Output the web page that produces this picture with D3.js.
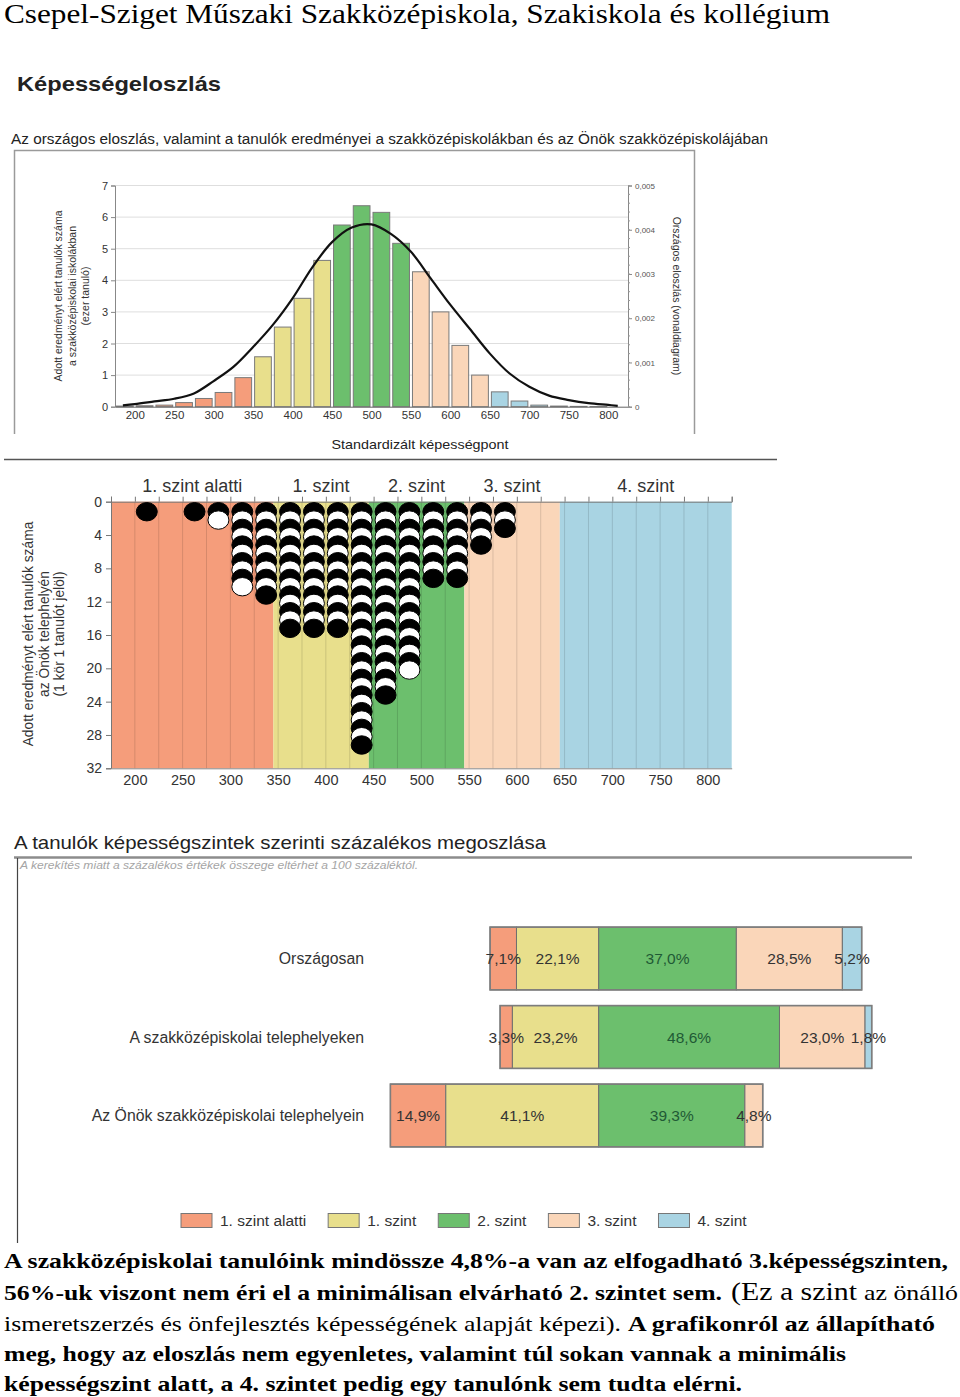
<!DOCTYPE html>
<html><head><meta charset="utf-8">
<script src="https://cdn.jsdelivr.net/npm/d3@7"></script>
<style>body{margin:0;background:#fff} svg{display:block}</style>
</head><body>
<svg id="c" width="960" height="1397"></svg>
<script>
// ---------- DATA ----------
const histBinStart = [175,200,225,250,275,300,325,350,375,400,425,450,475,500,525,550,575,600,625,650,675,700,725,750,775];
const histCount    = [0.02,0.03,0.05,0.13,0.26,0.45,0.92,1.58,2.52,3.43,4.63,5.75,6.36,6.15,5.17,4.27,3.0,1.94,1.0,0.47,0.18,0.05,0.02,0.01,0.005];
const curveScore   = [185,200,225,250,275,300,325,350,375,400,425,450,475,500,525,550,575,600,625,650,675,700,725,750,775,800,812];
const curveDensity = [0.00003,0.00006,0.00012,0.00018,0.0003,0.00058,0.0009,0.00135,0.00185,0.00245,0.00315,0.00372,0.00405,0.00412,0.0039,0.0035,0.0029,0.0023,0.00175,0.0012,0.00075,0.00045,0.00025,0.00015,0.00008,0.00004,0.00002];
const histYTicks = [0,1,2,3,4,5,6,7];
const densityTicks = [0,0.001,0.002,0.003,0.004,0.005];
const scoreTicks = [200,250,300,350,400,450,500,550,600,650,700,750,800];

const levelNames = ["1. szint alatti","1. szint","2. szint","3. szint","4. szint"];
const levelBounds = [175,345,445,545,645,825];
const levelColors = ["#f59d7b","#e8df8c","#6cbf6d","#fad6b9","#a9d4e3"];

const dotColumnCenter = [212.5,262.5,287.5,312.5,337.5,362.5,387.5,412.5,437.5,462.5,487.5,512.5,537.5,562.5,587.5];
const dotColumnCount  = [1,1,2,10,11,15,15,15,29,23,20,9,9,5,3];
const dotYTicks = [0,4,8,12,16,20,24,28,32];

const groups = ["Országosan","A szakközépiskolai telephelyeken","Az Önök szakközépiskolai telephelyein"];
const pctBelow1 = [7.1,3.3,14.9];
const pctLevel1 = [22.1,23.2,41.1];
const pctLevel2 = [37.0,48.6,39.3];
const pctLevel3 = [28.5,23.0,4.8];
const pctLevel4 = [5.2,1.8,0];

// ---------- DRAW ----------
const svg = d3.select("#c");
const SANS = "'Liberation Sans', Arial, sans-serif";
const SERIF = "'Liberation Serif', 'Times New Roman', serif";

function txt(x,y,s,o={}){
  const t = svg.append("text").attr("x",x).attr("y",y).text(s)
    .attr("font-family",o.ff||SANS).attr("font-size",o.fs||12)
    .attr("fill",o.fill||"#222");
  if(o.fw) t.attr("font-weight",o.fw);
  if(o.fst) t.attr("font-style",o.fst);
  if(o.anchor) t.attr("text-anchor",o.anchor);
  if(o.len) t.attr("textLength",o.len).attr("lengthAdjust","spacingAndGlyphs");
  if(o.rot!==undefined) t.attr("transform",`rotate(${o.rot},${x},${y})`);
  return t;
}

// page title
txt(4,23,"Csepel-Sziget Műszaki Szakközépiskola, Szakiskola és kollégium",{ff:SERIF,fs:27,fill:"#000",len:826});

// ===== Histogram =====
txt(17,91,"Képességeloszlás",{fs:21,fw:"bold",len:204,fill:"#222"});
txt(11,144,"Az országos eloszlás, valamint a tanulók eredményei a szakközépiskolákban és az Önök szakközépiskolájában",{fs:14,len:757,fill:"#222"});
svg.append("path").attr("d","M14.5,434 V150.5 H694.5 V434").attr("fill","none").attr("stroke","#9a9a9a").attr("stroke-width",1.5);

const xH = d3.scaleLinear().domain([175,825]).range([115,628]);
const yH = d3.scaleLinear().domain([0,7]).range([406.7,185.5]);
const yDens = d3.scaleLinear().domain([0,0.005]).range([406.7,185.5]);
const binW = xH(200)-xH(175);

svg.append("g").selectAll("line").data(histYTicks.slice(1)).join("line")
  .attr("x1",xH(175)).attr("x2",xH(825)).attr("y1",d=>yH(d)).attr("y2",d=>yH(d))
  .attr("stroke","#dedede").attr("stroke-width",1);

function levelColor(s){
  const i = d3.bisectRight([350,450,550,650], s);
  return levelColors[i];
}
svg.append("g").selectAll("rect").data(histBinStart).join("rect")
  .attr("x",d=>xH(d)+1.5).attr("width",binW-3)
  .attr("y",(d,i)=>yH(histCount[i])).attr("height",(d,i)=>yH(0)-yH(histCount[i]))
  .attr("fill",d=>levelColor(d)).attr("stroke","#7a7a7a").attr("stroke-width",1);

const gl = svg.append("g").attr("transform",`translate(${xH(175)},0)`)
  .call(d3.axisLeft(yH).tickValues(histYTicks).tickFormat(d3.format("d")).tickSize(4).tickPadding(3));
gl.select(".domain").attr("stroke","#888");
gl.selectAll(".tick line").attr("stroke","#888");
gl.selectAll("text").attr("font-family",SANS).attr("font-size",11).attr("fill","#333");

const gb = svg.append("g").attr("transform",`translate(0,${yH(0)})`)
  .call(d3.axisBottom(xH).tickValues(scoreTicks).tickSize(0).tickPadding(4));
gb.select(".domain").attr("stroke","#666");
gb.selectAll("text").attr("font-family",SANS).attr("font-size",11.5).attr("fill","#333");

const gr = svg.append("g").attr("transform",`translate(${xH(825)},0)`)
  .call(d3.axisRight(yDens).tickValues(densityTicks).tickSize(4).tickPadding(3)
    .tickFormat(d=>String(d).replace(".",",")));
gr.select(".domain").attr("stroke","#888");
gr.selectAll(".tick line").attr("stroke","#888");
gr.selectAll("text").attr("font-family",SANS).attr("font-size",8).attr("fill","#555");
const minorTicks = d3.range(0,0.00501,0.0002);
svg.append("g").selectAll("line").data(minorTicks).join("line")
  .attr("x1",xH(825)).attr("x2",xH(825)+2).attr("y1",d=>yDens(d)).attr("y2",d=>yDens(d))
  .attr("stroke","#999");

svg.append("path").datum(curveScore)
  .attr("d",d3.line().x(d=>xH(d)).y((d,i)=>yDens(curveDensity[i])).curve(d3.curveCatmullRom))
  .attr("fill","none").attr("stroke","#111").attr("stroke-width",2.2);

["Adott eredményt elért tanulók száma","a szakközépiskolai iskolákban","(ezer tanuló)"].forEach((s,i)=>{
  txt(62+i*13.5,296,s,{fs:10.5,anchor:"middle",rot:-90,fill:"#333"});
});
txt(673,296,"Országos eloszlás (vonaldiagram)",{fs:10.5,anchor:"middle",rot:90,fill:"#333"});
txt(420,449,"Standardizált képességpont",{fs:13,anchor:"middle",fill:"#222",len:177});

svg.append("line").attr("x1",4).attr("x2",777).attr("y1",459.5).attr("y2",459.5).attr("stroke","#555").attr("stroke-width",1.5);

// ===== Dot plot =====
const xD = d3.scaleLinear().domain([175,825]).range([111,731.7]);
const yD = d3.scaleLinear().domain([0,32]).range([501.7,768.3]);

svg.append("g").selectAll("rect").data(levelNames).join("rect")
  .attr("x",(d,i)=>xD(levelBounds[i])).attr("width",(d,i)=>xD(levelBounds[i+1])-xD(levelBounds[i]))
  .attr("y",yD(0)).attr("height",yD(32)-yD(0)).attr("fill",(d,i)=>levelColors[i]);

const grid25 = d3.range(200,825,25);
svg.append("g").selectAll("line").data(grid25).join("line")
  .attr("x1",d=>xD(d)).attr("x2",d=>xD(d)).attr("y1",yD(0)).attr("y2",yD(32))
  .attr("stroke","rgba(0,0,0,0.13)").attr("stroke-width",1);

const gt = svg.append("g").attr("transform",`translate(0,${yD(0)})`)
  .call(d3.axisTop(xD).tickValues(d3.range(175,826,25)).tickSize(5).tickFormat(""));
gt.select(".domain").attr("stroke","#777");
gt.selectAll(".tick line").attr("stroke","#777");

svg.append("g").selectAll("text").data(levelNames).join("text")
  .attr("x",(d,i)=>(xD(levelBounds[i])+xD(levelBounds[i+1]))/2).attr("y",492)
  .attr("text-anchor","middle").attr("font-family",SANS).attr("font-size",18).attr("fill","#333").text(d=>d);

const gdl = svg.append("g").attr("transform",`translate(${xD(175)},0)`)
  .call(d3.axisLeft(yD).tickValues(dotYTicks).tickSize(5).tickPadding(4));
gdl.select(".domain").attr("stroke","#777");
gdl.selectAll(".tick line").attr("stroke","#777");
gdl.selectAll("text").attr("font-family",SANS).attr("font-size",14).attr("fill","#333");

const gdb = svg.append("g").attr("transform",`translate(0,${yD(32)})`)
  .call(d3.axisBottom(xD).tickValues(scoreTicks).tickSize(0).tickPadding(6));
gdb.select(".domain").attr("stroke","#888");
gdb.selectAll("text").attr("font-family",SANS).attr("font-size",14.5).attr("fill","#333");

["Adott eredményt elért tanulók száma","az Önök telephelyén","(1 kör 1 tanulót jelöl)"].forEach((s,i)=>{
  txt(33+i*15.5,634,s,{fs:13.8,anchor:"middle",rot:-90,fill:"#333"});
});

const dots = [];
dotColumnCenter.forEach((c,ci)=>{
  for(let k=1;k<=dotColumnCount[ci];k++) dots.push({c,k});
});
svg.append("g").selectAll("ellipse").data(dots).join("ellipse")
  .attr("cx",d=>xD(d.c)).attr("cy",d=>yD(d.k)+1.7).attr("rx",10.5).attr("ry",9.2)
  .attr("fill",d=>d.k%2===1?"#000":"#fff").attr("stroke","#000").attr("stroke-width",1);

// ===== Stacked bars =====
txt(14,849,"A tanulók képességszintek szerinti százalékos megoszlása",{fs:19,len:532,fill:"#222"});
svg.append("line").attr("x1",14).attr("x2",912).attr("y1",857.5).attr("y2",857.5).attr("stroke","#8c8c8c").attr("stroke-width",2.5);
svg.append("line").attr("x1",17.5).attr("x2",17.5).attr("y1",858).attr("y2",1243).attr("stroke","#444").attr("stroke-width",1.2);
txt(20,869,"A kerekítés miatt a százalékos értékek összege eltérhet a 100 százaléktól.",{fs:11,fst:"italic",fill:"#a5a5a5",len:398});

const xB = d3.scaleLinear().domain([-60,80]).range([598.7-60*3.72,598.7+80*3.72]);
const yB = d3.scaleBand().domain(groups).range([919.25,1154.75]).paddingInner(0.2).paddingOuter(0.1);
const segs = [];
groups.forEach((g,i)=>{
  const v = [pctBelow1[i],pctLevel1[i],pctLevel2[i],pctLevel3[i],pctLevel4[i]];
  const starts = [-(v[0]+v[1]), -v[1], 0, v[2], v[2]+v[3]];
  v.forEach((val,li)=>{ if(val>0) segs.push({g,li,val,x0:starts[li],x1:starts[li]+val}); });
});
svg.append("g").selectAll("rect").data(segs).join("rect")
  .attr("x",d=>xB(d.x0)).attr("width",d=>xB(d.x1)-xB(d.x0))
  .attr("y",d=>yB(d.g)).attr("height",yB.bandwidth())
  .attr("fill",d=>levelColors[d.li]).attr("stroke","#6f6f6f").attr("stroke-width",1);
groups.forEach((g,i)=>{
  const lo = -(pctBelow1[i]+pctLevel1[i]), hi = pctLevel2[i]+pctLevel3[i]+pctLevel4[i];
  svg.append("rect").attr("x",xB(lo)).attr("width",xB(hi)-xB(lo)).attr("y",yB(g)).attr("height",yB.bandwidth())
    .attr("fill","none").attr("stroke","#7d7d7d").attr("stroke-width",1.6);
});
svg.append("g").selectAll("text").data(segs).join("text")
  .attr("x",d=>(xB(d.x0)+xB(d.x1))/2).attr("y",d=>yB(d.g)+yB.bandwidth()/2+5.5)
  .attr("text-anchor","middle").attr("font-family",SANS).attr("font-size",15.5)
  .attr("fill",d=>d.li===2?"#1f5a35":"#333")
  .text(d=>d.val.toFixed(1).replace(".",",")+"%");
svg.append("g").selectAll("text").data(groups).join("text")
  .attr("x",364).attr("y",d=>yB(d)+yB.bandwidth()/2+5.5).attr("text-anchor","end")
  .attr("font-family",SANS).attr("font-size",15.8).attr("fill","#333").text(d=>d);

let lx = 181;
levelNames.forEach((n,i)=>{
  svg.append("rect").attr("x",lx).attr("y",1213.5).attr("width",31).attr("height",14)
    .attr("fill",levelColors[i]).attr("stroke","#777").attr("stroke-width",1);
  const t = txt(lx+39,1226,n,{fs:15.5,fill:"#333"});
  lx += 39 + t.node().getComputedTextLength() + 22;
});

// ===== Paragraph =====
const P = {ff:SERIF,fs:22,fill:"#000"};
txt(4,1268,"A szakközépiskolai tanulóink mindössze 4,8%-a van az elfogadható 3.képességszinten,",{...P,fw:"bold",len:944});
txt(4,1300,"56%-uk viszont nem éri el a minimálisan elvárható 2. szintet sem.",{...P,fw:"bold",len:718});
txt(731,1300,"(Ez a szint",{...P,fs:26,len:126});
txt(864,1300,"az önálló",{...P,len:94});
txt(4,1331,"ismeretszerzés és önfejlesztés képességének alapját képezi).",{...P,len:617});
txt(628,1331,"A grafikonról az állapítható",{...P,fw:"bold",len:307});
txt(4,1361,"meg, hogy az eloszlás nem egyenletes, valamint túl sokan vannak a minimális",{...P,fw:"bold",len:842});
txt(4,1391,"képességszint alatt, a 4. szintet pedig egy tanulónk sem tudta elérni.",{...P,fw:"bold",len:738});
</script>
</body></html>
